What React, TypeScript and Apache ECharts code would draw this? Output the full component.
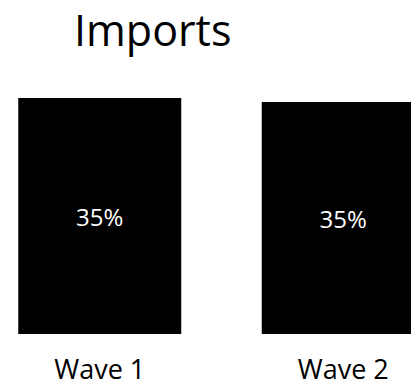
import React, { useEffect, useRef } from "react";
import * as echarts from "echarts";

const categories = ["Wave 1", "Wave 2"];
const values = [35.4, 34.8];
const titleText = "Imports";

export default function App() {
  const ref = useRef<HTMLDivElement>(null);
  useEffect(() => {
    document.body.style.margin = "0";
    const chart = echarts.init(ref.current!, null, { renderer: "svg" });
    chart.setOption({
      animation: false,
      backgroundColor: "#ffffff",
      title: {
        text: titleText,
        left: 91,
        top: 3,
        textStyle: {
          fontFamily: "Open Sans",
          fontSize: 43,
          fontWeight: "normal",
          color: "#000000",
        },
      },
      grid: { left: 0, right: 0, top: 0.7, bottom: 52 },
      xAxis: {
        type: "category",
        data: categories,
        axisLine: { show: false },
        axisTick: { show: false },
        axisLabel: {
          margin: 20,
          fontFamily: "Open Sans",
          fontSize: 27,
          lineHeight: 28,
          color: "#000000",
        },
      },
      yAxis: {
        type: "value",
        min: 0,
        max: 50,
        show: false,
        splitLine: { show: false },
      },
      series: [
        {
          type: "bar",
          data: values,
          barWidth: 163,
          itemStyle: { color: "#000000" },
          label: {
            show: true,
            position: "inside",
            formatter: (p: any) => Math.round(p.value) + "%",
            fontFamily: "Open Sans",
            fontSize: 24,
            color: "#ffffff",
          },
        },
      ],
    });
    return () => chart.dispose();
  }, []);
  return (
    <div style={{ position: "relative", width: 411, height: 386, overflow: "hidden", background: "#ffffff" }}>
      <div ref={ref} style={{ position: "absolute", left: -22, top: 0, width: 487, height: 386 }} />
    </div>
  );
}
